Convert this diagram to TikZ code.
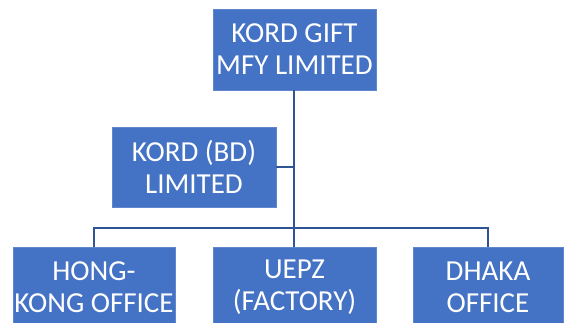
\documentclass[tikz,border=0pt]{standalone}
\usepackage{fontspec}
\setmainfont{Carlito}
\definecolor{boxblue}{HTML}{4472C4}
\definecolor{lineblue}{HTML}{2F5597}
\begin{document}
\begin{tikzpicture}[x=1pt,y=-1pt,
  orgbox/.style={fill=boxblue, draw=boxblue!85!white, line width=0.6pt, text=white, align=center,
    font=\fontsize{29}{32}\selectfont, inner sep=0pt},
  link/.style={draw=lineblue, line width=2.2pt}]
\useasboundingbox (0,0) rectangle (566,322);
\node[orgbox, minimum width=163pt, minimum height=81pt] (top) at (294.5,49.5) {KORD GIFT\\MFY LIMITED};
\node[orgbox, minimum width=164pt, minimum height=80pt] (mid) at (194,167) {KORD (BD)\\LIMITED};
\begin{scope}
\clip (0,0) rectangle (566,322);
\node[orgbox, minimum width=162pt, minimum height=81pt] (hk) at (94,287.5) {HONG-\\KONG OFFICE};
\node[orgbox, minimum width=163pt, minimum height=81pt] (uepz) at (294.5,287.5) {UEPZ\\(FACTORY)};
\node[orgbox, minimum width=150pt, minimum height=81pt] (dhaka) at (488,287.5) {DHAKA\\OFFICE};
\end{scope}
\coordinate (bus) at (294,228);
\draw[link] (top.south -| bus) -- (uepz.north -| bus);
\draw[link] (mid.east) -- (mid.east -| bus);
\draw[link] (hk.north) -- (hk.north |- bus) -- (dhaka.north |- bus) -- (dhaka.north);
\end{tikzpicture}
\end{document}
